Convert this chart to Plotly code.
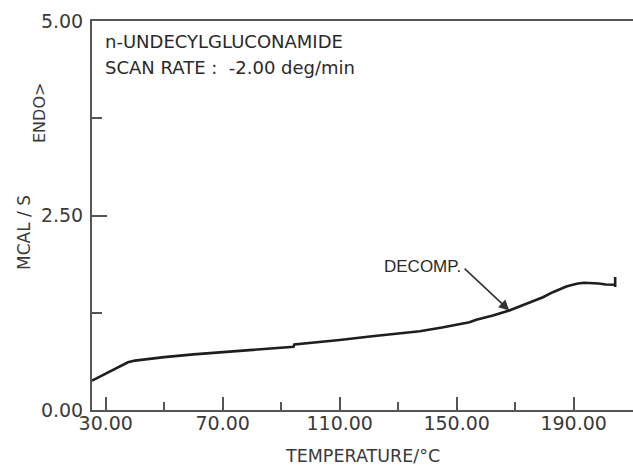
import plotly.graph_objects as go

# DSC trace (temperature in deg C, heat flow in mcal/s)
temperature = [25.3, 30.0, 35.0, 37.6, 40.0, 50.0, 60.0, 70.0, 80.0, 89.5, 94.2, 94.5,
               103.0, 110.0, 120.3, 130.0, 137.4, 145.0, 150.3, 154.4, 156.7, 162.4,
               168.0, 173.8, 179.5, 182.9, 187.5, 189.7, 191.5, 193.7, 196.0, 198.5,
               201.0, 204.2, 204.2, 204.2]
heat_flow = [0.377, 0.467, 0.563, 0.613, 0.635, 0.680, 0.715, 0.745, 0.775, 0.806, 0.812, 0.842,
             0.870, 0.900, 0.944, 0.980, 1.012, 1.060, 1.100, 1.128, 1.159, 1.214,
             1.279, 1.365, 1.450, 1.514, 1.588, 1.610, 1.626, 1.635, 1.633, 1.626,
             1.613, 1.610, 1.710, 1.580]

x_major_ticks = [30, 70, 110, 150, 190]
x_tick_labels = ["30.00", "70.00", "110.00", "150.00", "190.00"]
y_major_ticks = [0, 2.5, 5]
y_tick_labels = ["0.00", "2.50", "5.00"]

decomp_point = (168.0, 1.279)
decomp_label = (152.2, 1.836)

title_lines = ["n-UNDECYLGLUCONAMIDE", "SCAN RATE :  -2.00 deg/min"]

FONT = "DejaVu Sans"
INK = "#2a2a2a"
AXIS = "#555555"

L, T, W, H = 92, 21, 541, 389


def px(xp):
    return (xp - L) / W


def py(yp):
    return (T + H - yp) / H


fig = go.Figure()
fig.add_trace(go.Scatter(x=temperature, y=heat_flow, mode="lines",
                         line=dict(color="#1e1e1e", width=2.6), showlegend=False,
                         hoverinfo="skip"))

fig.update_layout(
    width=633, height=466,
    margin=dict(l=L, r=633 - L - W, t=T, b=466 - T - H, autoexpand=False),
    paper_bgcolor="white", plot_bgcolor="white",
    font=dict(family=FONT, color=INK, size=18),
    xaxis=dict(range=[25.3, 210.3], showgrid=False, zeroline=False, automargin=False,
               showline=True, linecolor=AXIS, linewidth=2, mirror=True,
               ticks="inside", ticklen=13, tickwidth=1.5, tickcolor=AXIS,
               tickvals=x_major_ticks, ticktext=x_tick_labels, ticklabelstandoff=-5,
               tickfont=dict(family=FONT, size=19, color="#3a3a3a"),
               minor=dict(tick0=30, dtick=20, ticks="inside", ticklen=8,
                          tickwidth=1.5, tickcolor=AXIS)),
    yaxis=dict(range=[0, 5], showgrid=False, zeroline=False, automargin=False,
               showline=True, linecolor=AXIS, linewidth=2, mirror=False,
               ticks="inside", ticklen=15, tickwidth=1.5, tickcolor=AXIS,
               tickvals=y_major_ticks, ticktext=y_tick_labels, ticklabelstandoff=3,
               tickfont=dict(family=FONT, size=19, color="#3a3a3a"),
               minor=dict(tick0=0, dtick=1.25, ticks="inside", ticklen=10,
                          tickwidth=1.5, tickcolor=AXIS)),
)

annotations = [
    dict(text="TEMPERATURE/°C", xref="paper", yref="paper", x=px(362), y=py(456),
         showarrow=False, xanchor="center", yanchor="middle",
         font=dict(family=FONT, size=17.5, color="#3a3a3a")),
    dict(text="MCAL / S", xref="paper", yref="paper", x=px(24), y=py(233),
         textangle=-90, showarrow=False, xanchor="center", yanchor="middle",
         font=dict(family=FONT, size=17, color="#3a3a3a")),
    dict(text="ENDO>", xref="paper", yref="paper", x=px(39), y=py(113),
         textangle=-90, showarrow=False, xanchor="center", yanchor="middle",
         font=dict(family=FONT, size=16, color="#3a3a3a")),
    dict(text=title_lines[0], xref="paper", yref="paper", x=px(103), y=py(41.5),
         showarrow=False, xanchor="left", yanchor="middle",
         font=dict(family=FONT, size=18, color=INK)),
    dict(text=title_lines[1], xref="paper", yref="paper", x=px(103), y=py(67.5),
         showarrow=False, xanchor="left", yanchor="middle",
         font=dict(family=FONT, size=18, color=INK)),
    dict(text="DECOMP.", x=decomp_label[0], y=decomp_label[1], xref="x", yref="y",
         showarrow=False, xanchor="right", yanchor="middle", yshift=1,
         font=dict(family="Liberation Sans", size=17, color=INK)),
    dict(text="", x=decomp_point[0], y=decomp_point[1], xref="x", yref="y",
         ax=decomp_label[0], ay=decomp_label[1], axref="x", ayref="y",
         showarrow=True, arrowhead=2, arrowsize=1.3, arrowwidth=1.6, arrowcolor="#333333"),
]
fig.update_layout(annotations=annotations)

fig.write_html("out.html", config={"displayModeBar": False},
               post_script="document.body.style.margin='0';document.body.style.overflow='hidden';")
